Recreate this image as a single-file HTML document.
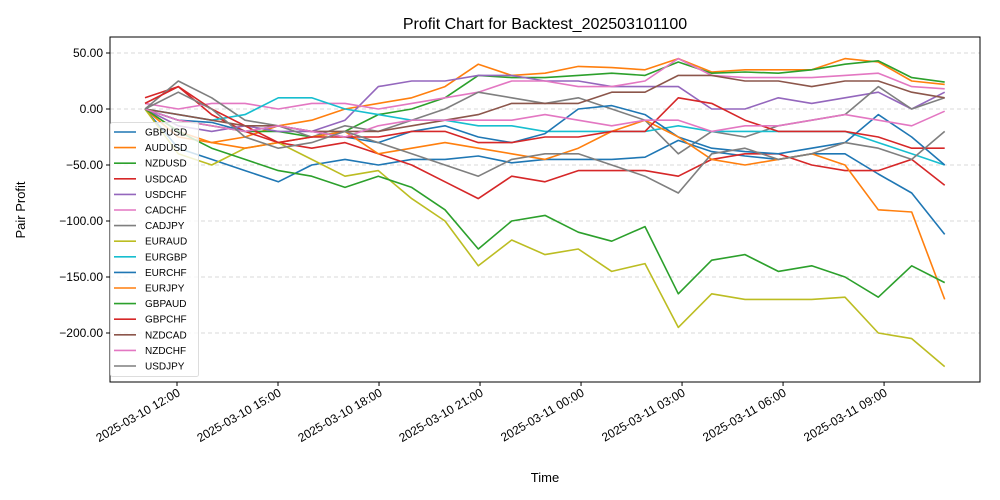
<!DOCTYPE html>
<html><head><meta charset="utf-8"><style>
body{margin:0;background:#fff;font-family:"Liberation Sans","DejaVu Sans",sans-serif}
svg{display:block}
</style></head><body>
<svg id="chart" width="1000" height="500" viewBox="0 0 1000 500" xmlns="http://www.w3.org/2000/svg" font-family="Liberation Sans, DejaVu Sans, sans-serif">
<rect width="1000" height="500" fill="#fff"/>
<text x="545" y="29" font-size="16" text-anchor="middle">Profit Chart for Backtest_202503101100</text>
<g id="grid"></g><g id="series"></g>
<rect x="110" y="37" width="870" height="345" fill="none" stroke="#000" stroke-width="1"/>
<g id="axes"></g>
<text x="545" y="482" font-size="13" text-anchor="middle">Time</text>
<text transform="translate(25,210) rotate(-90)" font-size="13" text-anchor="middle">Pair Profit</text>
<g id="legend"></g>
</svg>
<script>
const seriesNames=["GBPUSD","AUDUSD","NZDUSD","USDCAD","USDCHF","CADCHF","CADJPY","EURAUD","EURGBP","EURCHF","EURJPY","GBPAUD","GBPCHF","NZDCAD","NZDCHF","USDJPY"];
const colors=["#1f77b4","#ff7f0e","#2ca02c","#d62728","#9467bd","#e377c2","#7f7f7f","#bcbd22","#17becf","#1f77b4","#ff7f0e","#2ca02c","#d62728","#8c564b","#e377c2","#7f7f7f"];
// hours since 2025-03-10 00:00
const times=[11.05,12.04,13.03,14.02,15.01,16.0,16.99,17.98,18.97,19.96,20.95,21.94,22.93,23.92,24.91,25.9,26.89,27.88,28.87,29.86,30.85,31.84,32.83,33.82,34.8];
const GBPUSD=[0,-35,-45,-55,-65,-50,-45,-50,-45,-45,-42,-48,-45,-45,-45,-43,-28,-38,-42,-45,-40,-40,-58,-75,-112];
const AUDUSD=[0,-25,-30,-25,-15,-10,0,5,10,20,40,30,32,38,37,35,45,33,35,35,35,45,42,25,22];
const NZDUSD=[0,-10,-15,-20,-20,-25,-20,-5,0,10,30,28,28,30,32,30,42,32,33,32,35,40,43,28,24];
const USDCAD=[10,20,-5,-20,-30,-35,-30,-40,-50,-65,-80,-60,-65,-55,-55,-55,-60,-45,-40,-40,-50,-55,-55,-45,-68];
const USDCHF=[0,-15,-20,-15,-20,-20,-10,20,25,25,30,30,25,25,20,20,20,0,0,10,5,10,15,0,15];
const CADCHF=[5,0,5,5,0,5,5,0,5,10,15,25,25,20,20,25,45,30,28,28,28,30,32,20,18];
const CADJPY=[0,25,10,-10,-15,-25,-15,-20,-10,0,15,10,5,10,0,-10,-40,-20,-25,-15,-10,-5,20,0,10];
const EURAUD=[0,-40,-50,-35,-30,-45,-60,-55,-80,-100,-140,-117,-130,-125,-145,-138,-195,-165,-170,-170,-170,-168,-200,-205,-230];
const EURGBP=[0,-5,-10,-5,10,10,0,-5,-10,-10,-15,-15,-20,-20,-20,-20,-15,-20,-20,-20,-20,-20,-30,-40,-50];
const EURCHF=[0,-10,-12,-20,-15,-20,-25,-30,-20,-15,-25,-30,-22,0,3,-5,-25,-35,-38,-40,-35,-30,-5,-25,-50];
const EURJPY=[0,-20,-30,-35,-30,-25,-20,-40,-35,-30,-35,-40,-45,-35,-20,-10,-25,-45,-50,-45,-40,-50,-90,-92,-170];
const GBPAUD=[0,-20,-35,-45,-55,-60,-70,-60,-70,-90,-125,-100,-95,-110,-118,-105,-165,-135,-130,-145,-140,-150,-168,-140,-155];
const GBPCHF=[5,20,0,-15,-30,-25,-25,-25,-20,-20,-30,-30,-25,-25,-20,-20,10,5,-10,-20,-20,-20,-25,-35,-35];
const NZDCAD=[0,-5,-10,-15,-15,-20,-20,-20,-15,-10,-5,5,5,5,15,15,30,30,25,25,20,25,25,15,10];
const NZDCHF=[0,-10,-15,-20,-15,-20,-25,-15,-10,-10,-10,-10,-5,-10,-15,-10,-10,-20,-15,-15,-10,-5,-10,-15,-2];
const USDJPY=[0,15,0,-25,-35,-30,-20,-30,-40,-50,-60,-45,-40,-40,-50,-60,-75,-40,-35,-45,-40,-30,-35,-45,-20];
const seriesValues=[GBPUSD,AUDUSD,NZDUSD,USDCAD,USDCHF,CADCHF,CADJPY,EURAUD,EURGBP,EURCHF,EURJPY,GBPAUD,GBPCHF,NZDCAD,NZDCHF,USDJPY];
const yTicks=[50,0,-50,-100,-150,-200];
const xTickHours=[12,15,18,21,24,27,30,33];
const xTickLabels=["2025-03-10 12:00","2025-03-10 15:00","2025-03-10 18:00","2025-03-10 21:00","2025-03-11 00:00","2025-03-11 03:00","2025-03-11 06:00","2025-03-11 09:00"];

const NS="http://www.w3.org/2000/svg";
function X(h){return 177+(h-12)*33.67;}
function Y(v){return 109-v*1.12;}
function mk(tag,attrs,parent){const e=document.createElementNS(NS,tag);for(const k in attrs)e.setAttribute(k,attrs[k]);parent.appendChild(e);return e;}
const grid=document.getElementById('grid'),axes=document.getElementById('axes'),ser=document.getElementById('series'),leg=document.getElementById('legend');
yTicks.forEach(v=>{
  const g=mk('line',{x1:110,x2:980,y1:Y(v),y2:Y(v),stroke:'#ccc','stroke-dasharray':'4,3','stroke-width':0.8},grid);
  
  
  mk('line',{x1:106,x2:110,y1:Y(v),y2:Y(v),stroke:'#000'},axes);
  const t=mk('text',{x:103,y:Y(v)+4,'font-size':12,'text-anchor':'end'},axes);
  t.textContent=(v<0?'\u2212':'')+Math.abs(v).toFixed(2);
  
  
});
xTickHours.forEach((h,i)=>{
  mk('line',{x1:X(h),x2:X(h),y1:382,y2:386,stroke:'#000'},axes);
  const t=mk('text',{x:0,y:0,'font-size':12,'text-anchor':'end',transform:`translate(${X(h)+4},${395}) rotate(-30)`},axes);
  t.textContent=xTickLabels[i];
  
  
});
seriesValues.forEach((vals,si)=>{
  const d=vals.map((v,i)=>(i?'L':'M')+X(times[i]).toFixed(1)+','+Y(v).toFixed(1)).join(' ');
  const p=mk('path',{d:d,fill:'none',stroke:colors[si],'stroke-width':1.6,'stroke-linejoin':'round'},ser);
  
  
});
const lb=mk('rect',{x:110.5,y:122.5,width:88,height:254,fill:'#fff','fill-opacity':0.8,stroke:'#ddd',rx:2},leg);


seriesNames.forEach((n,i)=>{
  const y=132+i*15.6;
  const g=mk('g',{},leg);
  
  
  mk('line',{x1:114,x2:136,y1:y,y2:y,stroke:colors[i],'stroke-width':1.6},g);
  const t=mk('text',{x:145,y:y+3.5,'font-size':10},g);
  t.textContent=n;
});
</script>
</body></html>
